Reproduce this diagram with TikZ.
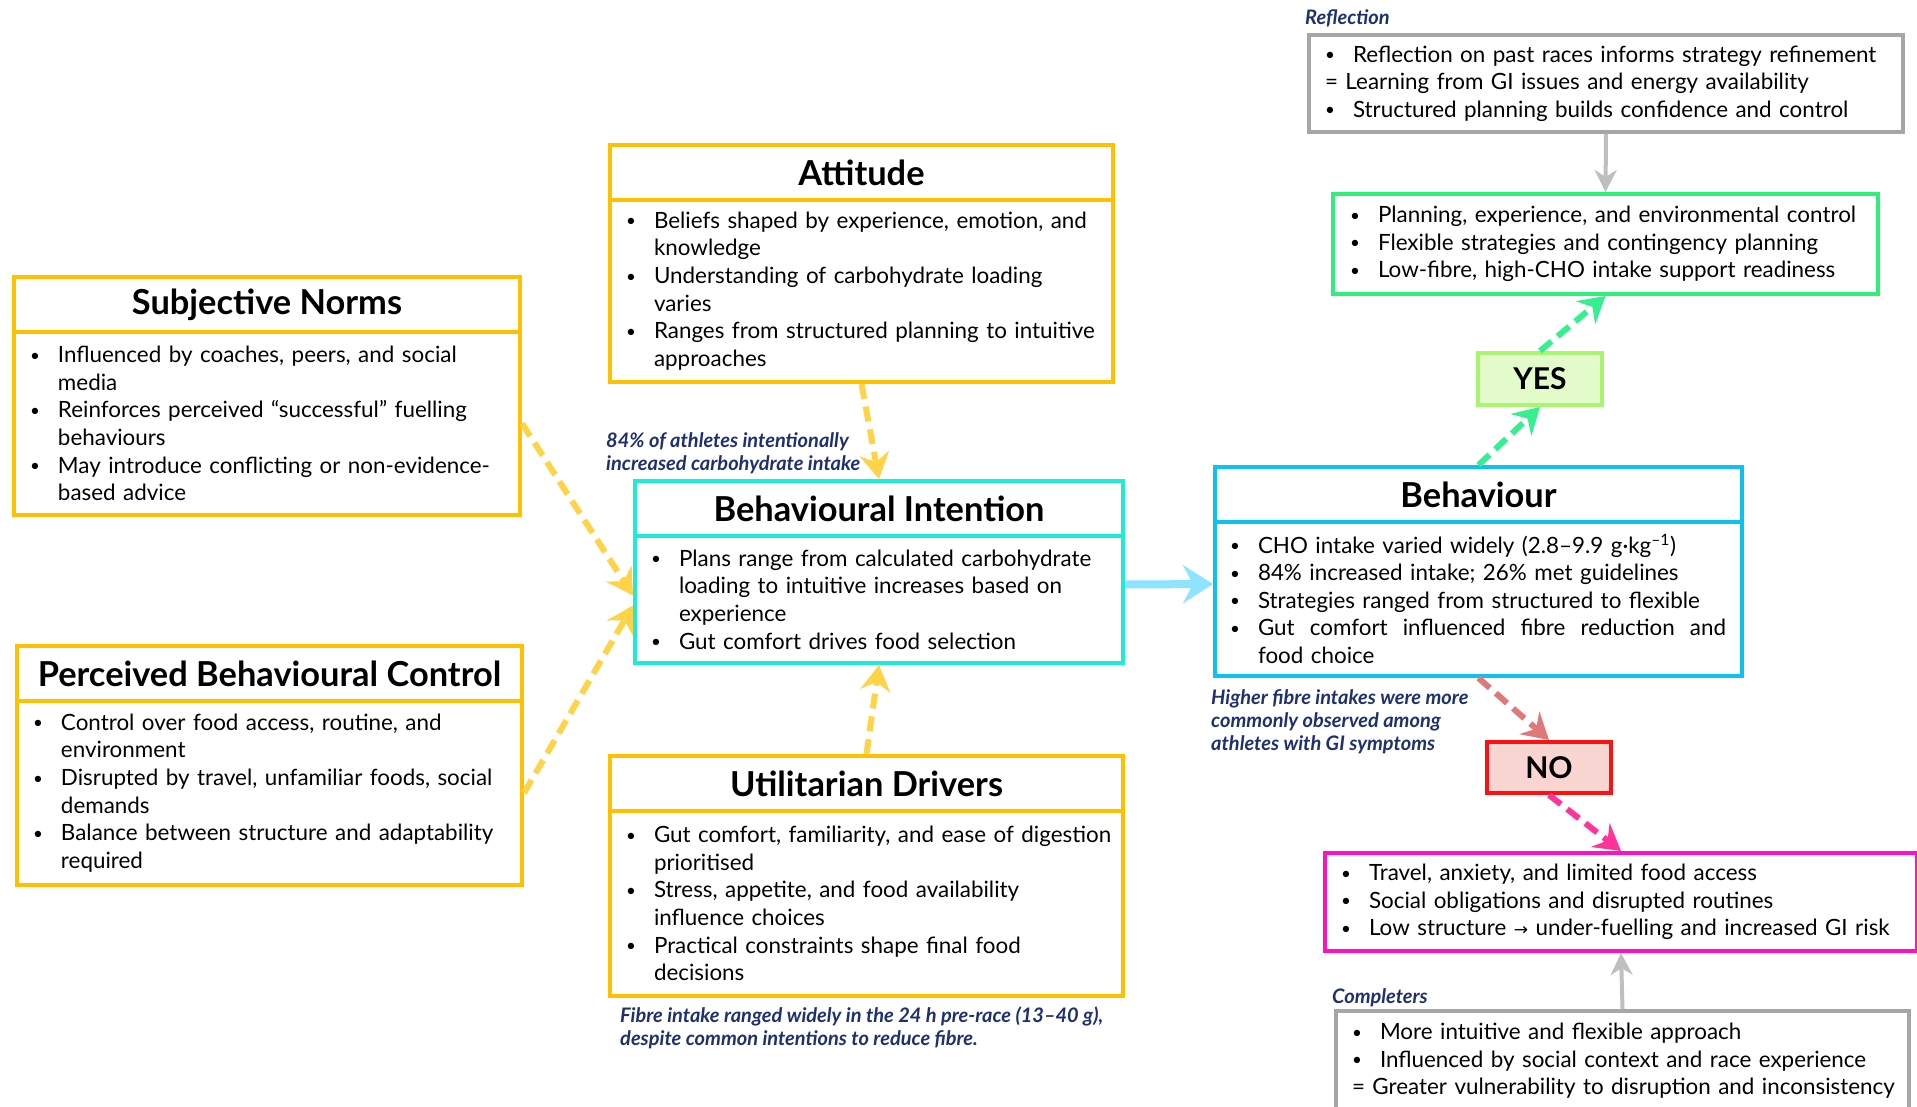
\documentclass[tikz,border=0pt]{standalone}
\usepackage{fontspec}
\setmainfont{Lato}
\newfontfamily\djv{DejaVu Sans}
\usetikzlibrary{arrows.meta,calc}
\definecolor{gold}{HTML}{FFC000}
\definecolor{goldarr}{HTML}{FFD347}
\definecolor{bicol}{HTML}{1DEBD6}
\definecolor{behcol}{HTML}{0DC2F2}
\definecolor{cyanarr}{HTML}{8EE4FF}
\definecolor{grn}{HTML}{2EEE7C}
\definecolor{grnarr}{HTML}{35F08E}
\definecolor{yesfill}{HTML}{E3FBCB}
\definecolor{yesdraw}{HTML}{A8F56F}
\definecolor{nofill}{HTML}{F8D5D0}
\definecolor{nodraw}{HTML}{FF1010}
\definecolor{redarr}{HTML}{E07878}
\definecolor{mag}{HTML}{FF10C8}
\definecolor{magarr}{HTML}{FF3399}
\definecolor{gry}{HTML}{A6A6A6}
\definecolor{gryarr}{HTML}{BFBFBF}
\definecolor{navy}{HTML}{1F3070}
\newcommand\bu{\makebox[28pt][l]{\raisebox{1.5pt}{\fontsize{17}{17}\selectfont\textbullet}}}
\newcommand\cn{\hspace*{28pt}}
\newcommand\bl[1]{\mbox{\bu #1}}
\newcommand\cl[1]{\mbox{\cn #1}}
\begin{document}
\begin{tikzpicture}[x=1pt,y=-1pt,
 ttl/.style={draw=#1, line width=4pt, anchor=north west, inner sep=0pt, font=\fontsize{34.4}{38}\selectfont\bfseries, align=center},
 bdy/.style={draw=#1, line width=4pt, anchor=north west, inner xsep=16pt, inner ysep=0pt, font=\fontsize{22.4}{27.6}\selectfont, align=left},
 note/.style={anchor=west, inner sep=0pt, font=\fontsize{20}{23.2}\selectfont\bfseries\itshape, text=navy, align=left},
 tip/.style={-{Stealth[length=26pt,width=30pt,inset=9pt]}},
 yarr/.style={tip, draw=goldarr, line width=6pt, dash pattern=on 15pt off 8pt},
 garr/.style={tip, draw=grnarr, line width=6pt, dash pattern=on 15pt off 8pt},
 rarr/.style={tip, draw=redarr, line width=6pt, dash pattern=on 15pt off 8pt},
 marr/.style={tip, draw=magarr, line width=6pt, dash pattern=on 15pt off 8pt},
 carr/.style={-{Stealth[length=30pt,width=38pt,inset=10pt]}, draw=cyanarr, line width=8pt},
 grarr/.style={-{Stealth[length=22pt,width=22pt,inset=7pt]}, draw=gryarr, line width=4pt},
 yn/.style={line width=4pt, anchor=north west, inner sep=0pt, font=\fontsize{30}{32}\selectfont\bfseries}
]
\fill[white] (0,0) rectangle (1917,1106);
\useasboundingbox (0,0) rectangle (1917,1106);

% Subjective Norms
\node[ttl=gold, minimum width=506pt, minimum height=55pt] (snT) at (12,275) {Subjective Norms};
\node[bdy=gold, minimum width=506pt, minimum height=183pt, text width=474pt] (snB) at (12,330) {\bl{Influenced by coaches, peers, and social}\\ \cl{media}\\ \bl{Reinforces perceived “successful” fuelling}\\ \cl{behaviours}\\ \bl{May introduce conflicting or non-evidence-}\\ \cl{based advice}};

% Perceived Behavioural Control
\node[ttl=gold, minimum width=505pt, minimum height=55pt] (pbcT) at (15,644) {Perceived Behavioural Control};
\node[bdy=gold, minimum width=505pt, minimum height=184pt, text width=473pt] (pbcB) at (15,699) {\bl{Control over food access, routine, and}\\ \cl{environment}\\ \bl{Disrupted by travel, unfamiliar foods, social}\\ \cl{demands}\\ \bl{Balance between structure and adaptability}\\ \cl{required}};

% Attitude
\node[ttl=gold, minimum width=503pt, minimum height=55pt] (attT) at (608,143) {Attitude};
\node[bdy=gold, minimum width=503pt, minimum height=182pt, text width=471pt] (attB) at (608,198) {\bl{Beliefs shaped by experience, emotion, and}\\ \cl{knowledge}\\ \bl{Understanding of carbohydrate loading}\\ \cl{varies}\\ \bl{Ranges from structured planning to intuitive}\\ \cl{approaches}};

% Behavioural Intention
\node[ttl=bicol, minimum width=488pt, minimum height=55pt] (biT) at (633,479) {Behavioural Intention};
\node[bdy=bicol, minimum width=488pt, minimum height=127pt, text width=456pt] (biB) at (633,534) {\bl{Plans range from calculated carbohydrate}\\ \cl{loading to intuitive increases based on}\\ \cl{experience}\\ \bl{Gut comfort drives food selection}};

% Utilitarian Drivers
\node[ttl=gold, minimum width=513pt, minimum height=55pt] (udT) at (608,754) {Utilitarian Drivers};
\node[bdy=gold, minimum width=513pt, minimum height=185pt, text width=481pt] (udB) at (608,809) {\bl{Gut comfort, familiarity, and ease of digestion}\\ \cl{prioritised}\\ \bl{Stress, appetite, and food availability}\\ \cl{influence choices}\\ \bl{Practical constraints shape final food}\\ \cl{decisions}};

% Behaviour
\node[ttl=behcol, minimum width=527pt, minimum height=55pt] (behT) at (1213,465) {Behaviour};
\node[bdy=behcol, minimum width=527pt, minimum height=154pt, text width=497pt, inner xsep=15pt] (behB) at (1213,520) {\bl{CHO intake varied widely (2.8–9.9 g·kg\textsuperscript{–1})}\\ \bl{84\% increased intake; 26\% met guidelines}\\ \bl{Strategies ranged from structured to flexible}\\ \bu \hbox to 468pt{Gut\hfill comfort\hfill influenced\hfill fibre\hfill reduction\hfill and}\\ \cl{food choice}};

% Reflection
\node[bdy=gry, minimum width=594pt, minimum height=97pt, text width=562pt] (refl) at (1307,33) {\bl{Reflection on past races informs strategy refinement}\\ \mbox{= Learning from GI issues and energy availability}\\ \bl{Structured planning builds confidence and control}};
\node[note] (reflL) at (1305,18) {Reflection};

% Green outcome
\node[bdy=grn, minimum width=545pt, minimum height=100pt, text width=511pt, inner xsep=17pt] (grn) at (1331,192) {\bl{Planning, experience, and environmental control}\\ \bl{Flexible strategies and contingency planning}\\ \bl{Low-fibre, high-CHO intake support readiness}};

% YES / NO
\node[yn, draw=yesdraw, fill=yesfill, minimum width=124pt, minimum height=52pt] (yes) at (1476,351) {YES};
\node[yn, draw=nodraw, fill=nofill, minimum width=124pt, minimum height=51pt] (no) at (1485,740) {NO};

% Magenta outcome
\node[bdy=mag, minimum width=592pt, minimum height=98pt, text width=560pt] (mag) at (1323,851) {\bl{Travel, anxiety, and limited food access}\\ \bl{Social obligations and disrupted routines}\\ \bl{Low structure {\djv\fontsize{17}{17}\selectfont →} under-fuelling and increased GI risk}};

% Completers
\node[bdy=gry, minimum width=573pt, minimum height=100pt, text width=541pt] (comp) at (1334,1009) {\bl{More intuitive and flexible approach}\\ \bl{Influenced by social context and race experience}\\ \mbox{= Greater vulnerability to disruption and inconsistency}};
\node[note] (compL) at (1332,998) {Completers};

% Notes
\node[note] (n84) at (606,453) {84\% of athletes intentionally\\increased carbohydrate intake};
\node[note] (nfib) at (1211,722) {Higher fibre intakes were more\\commonly observed among\\athletes with GI symptoms};
\node[note] (n24) at (620,1028) {Fibre intake ranged widely in the 24 h pre-race (13–40 g),\\despite common intentions to reduce fibre.};

% Connectors
\draw[yarr] (snB.east) -- ($(biB.west)+(0,-4)$);
\draw[yarr] (pbcB.east) -- ($(biB.west)+(0,6)$);
\draw[yarr] (attB.south) -- (biT.north);
\draw[yarr] (udT.north) -- (biB.south);
\draw[carr] ($(biB.east)+(0,-15)$) -- ($(behB.west)+(0,-15)$);
\draw[garr] (behT.north) -- (yes.south);
\draw[garr] (yes.north) -- (grn.south);
\draw[rarr] (behB.south) -- (no.north);
\draw[marr] (no.south) -- (mag.north);
\draw[grarr] (refl.south) -- (grn.north);
\draw[grarr] (comp.north) -- (mag.south);
\end{tikzpicture}
\end{document}
